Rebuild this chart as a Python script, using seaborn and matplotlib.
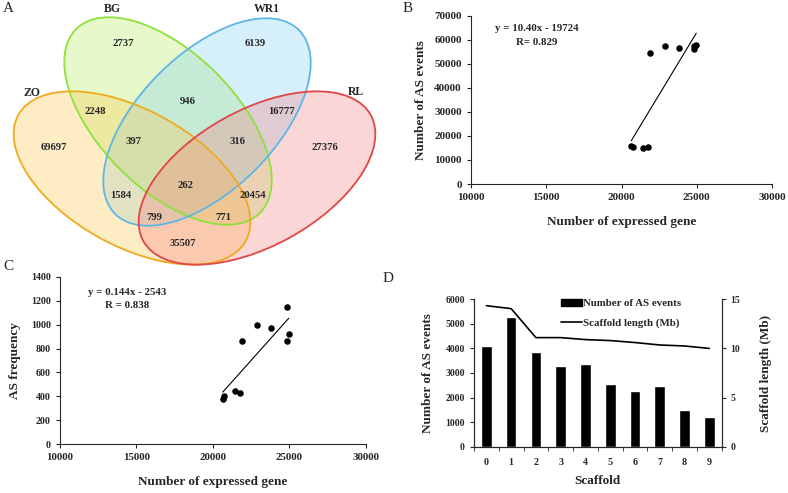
import numpy as np
import pandas as pd
import matplotlib
matplotlib.use("agg")
import matplotlib.pyplot as plt
from matplotlib.patches import Ellipse, Rectangle
from matplotlib.lines import Line2D
import seaborn as sns

sns.set_style("ticks")
plt.rcParams['font.family'] = ['Liberation Serif', 'DejaVu Serif']
plt.rcParams['axes.linewidth'] = 0.8

# --- data ---
venn_sets = ["BG", "WR1", "ZO", "RL"]
venn_counts = [2737, 6139, 946, 2248, 16777, 69697, 397, 316, 27376,
               262, 1584, 20454, 799, 771, 35507]

expr_genes = [20648, 20733, 21453, 21780, 21911, 22873, 23809, 24836, 24836, 24967]
as_events = [15600, 15200, 15000, 15200, 54450, 57600, 56650, 56200, 57300, 57900]
as_freq = [381, 403, 445, 426, 860, 996, 974, 1144, 865, 918]

scaffold = list(range(10))
scaffold_as = [4090, 5290, 3850, 3280, 3350, 2560, 2250, 2460, 1500, 1200]
scaffold_len = [14.35, 14.05, 11.1, 11.1, 10.9, 10.8, 10.6, 10.35, 10.25, 10.0]

df_bc = pd.DataFrame({"genes": expr_genes, "events": as_events, "freq": as_freq})
df_d = pd.DataFrame({"scaffold": scaffold, "events": scaffold_as, "length": scaffold_len})

W, H = 788, 493
fig = plt.figure(figsize=(W / 100, H / 100), dpi=100)


def px_axes(x0, y0, x1, y1):
    # axes from pixel box (top-left origin)
    return fig.add_axes([x0 / W, 1 - y1 / H, (x1 - x0) / W, (y1 - y0) / H])


lab_kw = dict(fontsize=9.5, fontweight="bold")
eq_kw = dict(ha="center", va="center", fontsize=7.8, fontweight="bold")

# ---------------- A: venn ----------------
axA = px_axes(0, 0, 400, 270)
axA.set_xlim(0, 400)
axA.set_ylim(270, 0)
axA.axis("off")
ell = [(168, 121, 45, "#b6ee5c", "#8fe03c"),
       (207, 122, -45, "#7fcff3", "#5db6e6"),
       (132, 178, 29, "#fcc84a", "#efaa1e"),
       (257, 178, -29, "#f58080", "#e04646")]
for cx, cy, ang, fc, ec in ell:
    axA.add_patch(Ellipse((cx, cy), 260, 136, angle=ang, facecolor=fc, alpha=0.32,
                          edgecolor="none"))
for cx, cy, ang, fc, ec in ell:
    axA.add_patch(Ellipse((cx, cy), 260, 136, angle=ang, facecolor="none",
                          edgecolor=ec, lw=1.3))
set_pos = [(112, 9), (267, 9), (32, 93), (356, 92)]
for name, (x, y) in zip(venn_sets, set_pos):
    axA.text(x, y, name, ha="center", va="center", fontsize=8.5, fontweight="bold")
cnt_pos = [(123, 44), (255, 44), (188, 102), (95, 112), (282, 112), (54, 147),
           (134, 141), (237, 141), (325, 147), (186, 186), (121, 196), (253, 196),
           (154, 218), (223, 218), (183, 243)]
for c, (x, y) in zip(venn_counts, cnt_pos):
    axA.text(x, y, str(c), ha="center", va="center", fontsize=7.7, fontweight="bold")

# ---------------- B ----------------
axB = px_axes(471, 15.7, 772, 184)
sns.scatterplot(data=df_bc, x="genes", y="events", ax=axB, color="black", s=22,
                edgecolor="black", linewidth=0)
sns.regplot(data=df_bc, x="genes", y="events", ax=axB, scatter=False, ci=None,
            color="black", line_kws=dict(lw=0.8))
axB.set_xlim(10000, 30000)
axB.set_ylim(0, 70000)
axB.set_xticks(np.arange(10000, 30001, 5000))
axB.set_yticks(np.arange(0, 70001, 10000))
axB.set_xlabel("Number of expressed gene", labelpad=10, **lab_kw)
axB.set_ylabel("Number of AS events", labelpad=5, **lab_kw)
axB.tick_params(axis="x", labelsize=8, length=3, width=0.8)
axB.tick_params(axis="y", labelsize=8, length=3, width=0.8)
axB.text(0.218, 0.921, "y = 10.40x - 19724", transform=axB.transAxes, **eq_kw)
axB.text(0.218, 0.838, "R= 0.829", transform=axB.transAxes, **eq_kw)

# ---------------- C ----------------
axC = px_axes(60, 276.7, 365.7, 444.3)
sns.scatterplot(data=df_bc, x="genes", y="freq", ax=axC, color="black", s=22,
                edgecolor="black", linewidth=0)
sns.regplot(data=df_bc, x="genes", y="freq", ax=axC, scatter=False, ci=None,
            color="black", line_kws=dict(lw=0.8))
axC.set_xlim(10000, 30000)
axC.set_ylim(0, 1400)
axC.set_xticks(np.arange(10000, 30001, 5000))
axC.set_yticks(np.arange(0, 1401, 200))
axC.set_xlabel("Number of expressed gene", labelpad=10, **lab_kw)
axC.set_ylabel("AS frequency", labelpad=7, **lab_kw)
axC.tick_params(axis="x", labelsize=7.8, length=3, width=0.8)
axC.tick_params(axis="y", labelsize=7.2, length=3, width=0.8)
axC.text(0.219, 0.903, "y = 0.144x - 2543", transform=axC.transAxes, **eq_kw)
axC.text(0.219, 0.831, "R = 0.838", transform=axC.transAxes, **eq_kw)

for ax in (axB, axC):
    sns.despine(ax=ax)
    for t in ax.get_xticklabels() + ax.get_yticklabels():
        t.set_fontweight("bold")

# ---------------- D ----------------
axD = px_axes(474, 299.3, 721.7, 446.7)
sns.barplot(data=df_d, x="scaffold", y="events", ax=axD, color="black",
            width=0.43, saturation=1)
axD.set_xlim(-0.5, 9.5)
axD.set_ylim(0, 6000)
axD.set_yticks(np.arange(0, 6001, 1000))
axD2 = axD.twinx()
sns.lineplot(data=df_d, x="scaffold", y="length", ax=axD2, color="black", lw=1.2)
axD2.set_ylim(0, 15)
axD2.set_yticks([0, 5, 10, 15])
axD.set_xlabel("Scaffold", labelpad=6, **lab_kw)
axD.set_ylabel("Number of AS events", labelpad=8, **lab_kw)
axD2.set_ylabel("Scaffold length (Mb)", labelpad=14, **lab_kw)
axD.set_xticks(np.arange(-0.5, 9.6, 1), minor=True)
axD.tick_params(axis="x", which="major", length=0, pad=8, labelsize=7.2)
axD.tick_params(axis="x", which="minor", length=3, width=0.6)
axD.tick_params(axis="y", labelsize=7, length=3, width=0.8)
axD2.tick_params(axis="y", labelsize=7, length=3, width=0.8)
for ax in (axD, axD2):
    ax.spines["top"].set_visible(False)
    for t in ax.get_xticklabels() + ax.get_yticklabels():
        t.set_fontweight("bold")
handles = [Rectangle((0, 0), 1, 1, color="black"), Line2D([], [], color="black", lw=1.2)]
axD.legend(handles, ["Number of AS events", "Scaffold length (Mb)"], loc="upper left",
           bbox_to_anchor=(0.31, 1.07), frameon=False, prop=dict(size=7.8, weight="bold"),
           handlelength=2.0, handletextpad=0.1, labelspacing=0.9)

# panel letters
for lab, x, y in [("A", 8, 8), ("B", 408, 8), ("C", 8, 267), ("D", 388, 278)]:
    fig.text(x / W, 1 - y / H, lab, ha="center", va="center", fontsize=11)

fig.savefig("out.png", dpi=100)
